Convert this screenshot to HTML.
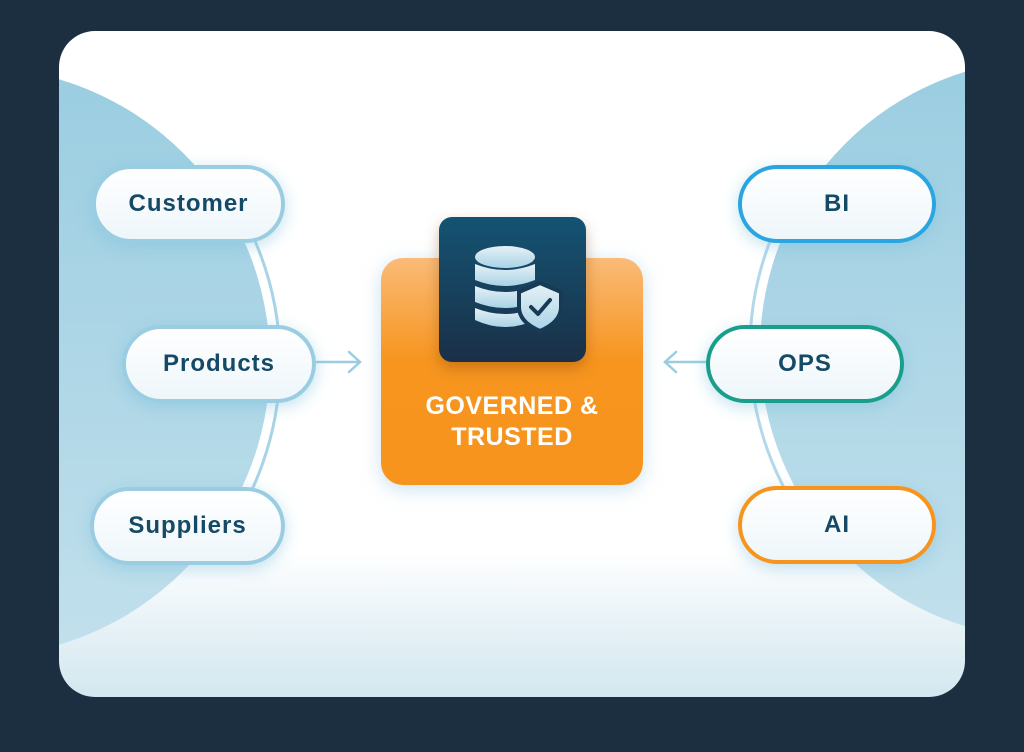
<!DOCTYPE html>
<html><head><meta charset="utf-8"><style>
html,body{margin:0;padding:0;background:#1b2f40;}
body{width:1024px;height:752px;position:relative;overflow:hidden;font-family:"Liberation Sans",sans-serif;}
.card{position:absolute;left:59px;top:31px;width:906px;height:666px;border-radius:36px;overflow:hidden;
background:linear-gradient(180deg,#ffffff 0%,#ffffff 78%,#e6f1f6 90%,#d3e7f0 100%);}
.pill{position:absolute;height:78px;border-radius:40px;border:4px solid #9acde2;
background:linear-gradient(180deg,#ffffff,#eef6fa);display:flex;align-items:center;justify-content:center;
font-weight:bold;font-size:24px;letter-spacing:1px;color:#154a66;box-shadow:0 4px 16px rgba(120,190,220,.45);box-sizing:border-box;}
.orange{position:absolute;left:381px;top:258px;width:262px;height:227px;border-radius:22px;
background:linear-gradient(180deg,#fabb78 0%,#f7951f 45%,#f7941d 100%);box-shadow:0 4px 18px rgba(150,200,225,.5);}
.dark{position:absolute;left:439px;top:217px;width:147px;height:145px;border-radius:13px;
background:linear-gradient(180deg,#145373,#1a3047);box-shadow:0 6px 14px rgba(120,60,0,.35);}
.txt{position:absolute;left:381px;width:262px;top:391px;text-align:center;color:#fff;font-weight:bold;font-size:25px;line-height:31px;letter-spacing:.5px;}
</style></head><body>
<div class="card">
<svg width="906" height="666" style="position:absolute;left:0;top:0">
<defs>
<linearGradient id="lg" x1="0" y1="0" x2="0" y2="1"><stop offset="0" stop-color="#9acde1"/><stop offset="1" stop-color="#c2e0ec"/></linearGradient>
<clipPath id="mid"><rect x="0" y="195" width="906" height="310"/></clipPath>
</defs>
<circle cx="-84" cy="331" r="295" fill="url(#lg)"/>
<g clip-path="url(#mid)">
<circle cx="-84" cy="331" r="300" fill="none" stroke="#ffffff" stroke-width="8"/>
<circle cx="-84" cy="331" r="305" fill="none" stroke="#a9d3e6" stroke-width="3"/>
</g>
<circle cx="991" cy="318" r="290" fill="url(#lg)"/>
<g clip-path="url(#mid)">
<circle cx="991" cy="318" r="295" fill="none" stroke="#ffffff" stroke-width="8"/>
<circle cx="991" cy="318" r="300" fill="none" stroke="#b3d8e9" stroke-width="3"/>
</g>
<g stroke="#9acde2" stroke-width="2.5" fill="none" stroke-linecap="round">
<line x1="258" y1="331" x2="300" y2="331"/><polyline points="290,321 301,331 290,341"/>
<line x1="606" y1="331" x2="648" y2="331"/><polyline points="617,321 606,331 617,341"/>
</g>
</svg>
</div>
<div class="pill" style="left:92px;top:165px;width:193px">Customer</div>
<div class="pill" style="left:122px;top:325px;width:194px">Products</div>
<div class="pill" style="left:90px;top:487px;width:195px">Suppliers</div>
<div class="pill" style="left:738px;top:165px;width:198px;border-color:#2aa5e0">BI</div>
<div class="pill" style="left:706px;top:325px;width:198px;border-color:#1a9e8c">OPS</div>
<div class="pill" style="left:738px;top:486px;width:198px;border-color:#f7941d">AI</div>
<div class="orange"></div>
<div class="dark">
<svg width="147" height="145" viewBox="0 0 147 145">
<defs><linearGradient id="ic" x1="0" y1="0" x2="0" y2="1"><stop offset="0" stop-color="#e6f1f6"/><stop offset="1" stop-color="#a9d3e6"/></linearGradient></defs>
<g fill="url(#ic)">
<ellipse cx="66" cy="40" rx="30" ry="11"/>
<path d="M36 47 q30 12 60 0 v16 q-30 12 -60 0z"/>
<path d="M36 69 q30 12 60 0 v16 q-30 12 -60 0z"/>
<path d="M36 91 q30 12 60 0 v12 q-30 14 -60 0z"/>
<path d="M101 66 l-21 9 v15 q0 15 21 24 q21 -9 21 -24 v-15z" stroke="#173b55" stroke-width="4"/>
</g>
<polyline points="92,90 99,97 111,83" fill="none" stroke="#173b55" stroke-width="4" stroke-linecap="round" stroke-linejoin="round"/>
</svg>
</div>
<div class="txt">GOVERNED &amp;<br>TRUSTED</div>
</body></html>
